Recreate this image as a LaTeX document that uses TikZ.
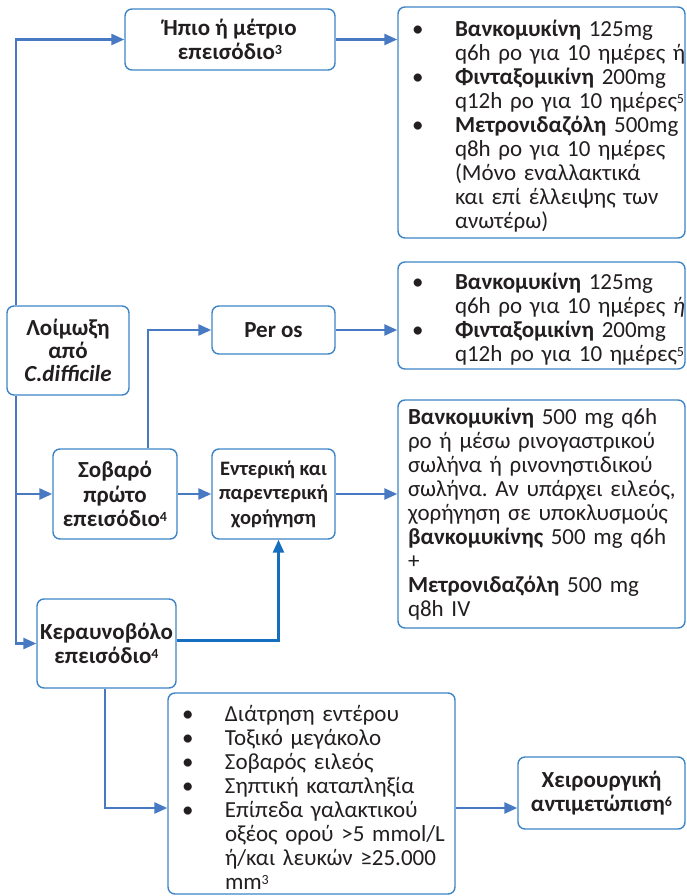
\documentclass[tikz,border=0pt]{standalone}
\usepackage{fontspec}
\setmainfont{Carlito}
\usetikzlibrary{arrows.meta}
\definecolor{edge}{RGB}{61,133,198}
\definecolor{link}{RGB}{72,122,196}
\definecolor{linkdark}{RGB}{22,110,190}
\definecolor{ink}{RGB}{35,31,32}
\frenchspacing
% small reference numbers, raised to cap height
\newcommand\sups[1]{\raisebox{5.5pt}{\fontsize{14}{14}\selectfont #1}}
% bullet item with hanging continuation lines
\newcommand\bul[1]{\par\hangindent=43pt\hangafter=1\noindent\makebox[43pt][l]{\textbullet}#1\par}
% margins of a list box: left inset, lines may run to the border
\newcommand\listmargins[1]{\leftskip=#1\rightskip=-12pt plus 1fil\relax\ignorespaces}
\tikzset{
  box/.style={draw=edge, line width=1.4pt, rounded corners=7pt, fill=white,
    text=ink, align=center, inner sep=0pt,
    font=\bfseries\fontsize{23}{24.5}\selectfont},
  listbox/.style={draw=edge, line width=1.4pt, rounded corners=7pt, fill=white,
    text=ink, align=left, inner sep=0pt,
    font=\fontsize{23}{24}\selectfont, text width=#1},
  arr/.style={draw=link, line width=2.6pt,
    -{Triangle[length=13pt,width=11pt]}},
  arrdark/.style={arr, draw=linkdark}
}
\begin{document}
\begin{tikzpicture}[x=1pt,y=-1pt]
\useasboundingbox (0,0) rectangle (687,896);

% --- boxes ---
\node[box, minimum width=210, minimum height=61] (mild) at (230,39.5)
  {Ήπιο ή μέτριο\\επεισόδιο\sups{3}};
\node[listbox=287, minimum height=231] (treatA) at (541.5,122.5) {\listmargins{14pt}
  \bul{\textbf{Βανκομυκίνη} 125mg\newline q6h ρο για 10 ημέρες ή}
  \bul{\textbf{Φινταξομικίνη} 200mg\newline q12h ρο για 10 ημέρες\sups{5}}
  \bul{\textbf{Μετρονιδαζόλη} 500mg\newline q8h ρο για 10 ημέρες\newline (Μόνο εναλλακτικά\newline και επί έλλειψης των\newline ανωτέρω)}};

\node[box, minimum width=122, minimum height=89, font=\bfseries\fontsize{23}{23}\selectfont] (inf) at (68,350.5)
  {Λοίμωξη\\από\\\textit{C.difficile}};
\node[box, minimum width=123, minimum height=48] (peros) at (273.5,330) {Per os};
\node[listbox=287, minimum height=107] (treatB) at (541.5,315.5) {\listmargins{14pt}
  \bul{\textbf{Βανκομυκίνη} 125mg\newline q6h ρο για 10 ημέρες \textit{ή}}
  \bul{\textbf{Φινταξομικίνη} 200mg\newline q12h ρο για 10 ημέρες\sups{5}}};

\node[box, minimum width=124, minimum height=90] (severe) at (115,494)
  {Σοβαρό\\πρώτο\\επεισόδιο\sups{4}};
\node[box, minimum width=123, minimum height=90,
  font=\bfseries\fontsize{20.5}{24.5}\selectfont] (enteral) at (273.5,494)
  {Εντερική και\\παρεντερική\\χορήγηση};
\node[listbox=287, minimum height=228] (treatC) at (541.5,514) {\listmargins{10pt}%
  \textbf{Βανκομυκίνη} 500 mg q6h\\
  ρο ή μέσω ρινογαστρικού\\
  σωλήνα ή ρινονηστιδικού\\
  σωλήνα. Αν υπάρχει ειλεός,\\
  χορήγηση σε υποκλυσμούς\\
  \textbf{βανκομυκίνης} 500 mg q6h\\
  +\\
  \textbf{Μετρονιδαζόλη} 500 mg\\
  q8h IV\par};

\node[box, minimum width=139, minimum height=89] (fulm) at (106.5,643.5)
  {Κεραυνοβόλο\\επεισόδιο\sups{4}};
\node[listbox=287, minimum height=201] (crit) at (311.5,793.5) {\listmargins{14pt}
  \bul{Διάτρηση εντέρου}
  \bul{Τοξικό μεγάκολο}
  \bul{Σοβαρός ειλεός}
  \bul{Σηπτική καταπληξία}
  \bul{Επίπεδα γαλακτικού\newline οξέος ορού >5 mmol/L\newline ή/και λευκών ≥25.000\newline mm\sups{3}}};
\node[box, minimum width=167, minimum height=72] (surg) at (601.5,793)
  {Χειρουργική\\αντιμετώπιση\sups{6}};

% --- connectors ---
\coordinate (trunk) at (16,350);
\draw[arr] (inf.north -| trunk) |- (mild.west);
\draw[arr] (inf.south -| trunk) |- (severe.west);
\draw[arr] (inf.south -| trunk) |- (fulm.west);

\draw[arr] (mild.east) -- (mild.east -| treatA.west);
\draw[arr] ([xshift=33pt]severe.north) |- (peros.west);
\draw[arr] (peros.east) -- (peros.east -| treatB.west);
\draw[arr] (severe.east) -- (enteral.west);
\draw[arr] (enteral.east) -- (enteral.east -| treatC.west);
\draw[arrdark] ([yshift=3pt]fulm.east) -| ([xshift=5pt]enteral.south);
\draw[arr] ([xshift=-1.5pt]fulm.south) |- ([yshift=-14.5pt]crit.west);
\draw[arr] ([yshift=-14.5pt]crit.east) -- ([yshift=-14.5pt]crit.east -| surg.west);
\end{tikzpicture}
\end{document}
